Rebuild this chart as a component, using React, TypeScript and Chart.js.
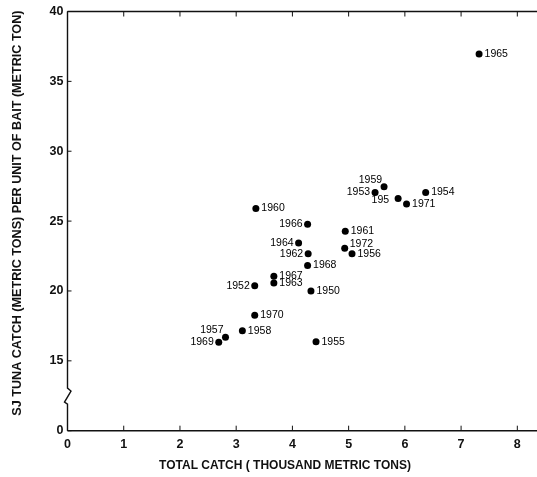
import React, { useEffect, useRef } from "react";
import { Chart, registerables } from "chart.js";

Chart.register(...registerables);

// ---- data ----
const years = ["1965", "1959", "1953", "195", "1971", "1954", "1960", "1966", "1961", "1964", "1972", "1956", "1962", "1968", "1967", "1963", "1952", "1950", "1970", "1958", "1957", "1969", "1955"];
const totalCatch = [7.32, 5.63, 5.47, 5.88, 6.03, 6.37, 3.35, 4.27, 4.94, 4.11, 4.93, 5.06, 4.28, 4.27, 3.67, 3.67, 3.33, 4.33, 3.33, 3.11, 2.81, 2.69, 4.42];
const catchPerBait = [36.96, 27.45, 27.04, 26.61, 26.22, 27.04, 25.9, 24.77, 24.27, 23.44, 23.06, 22.66, 22.66, 21.83, 21.05, 20.57, 20.38, 20.0, 18.27, 17.15, 16.69, 16.33, 16.37];
const labelSide = ["right", "upLeft", "left", "left", "right", "right", "right", "left", "right", "left", "upRight", "right", "left", "right", "right", "right", "left", "right", "right", "right", "upLeft", "left", "right"];

const xTicks = [0, 1, 2, 3, 4, 5, 6, 7, 8];
// broken y axis: the bottom tick stands for 0
const yTicks = [10, 15, 20, 25, 30, 35, 40];
const yTickLabels = ["0", "15", "20", "25", "30", "35", "40"];
const xMin = 0;
const xMax = 8.35;
const yMin = 10;
const yMax = 40;
const breakTop = 13.05;
const breakBottom = 11.9;

const xTitle = "TOTAL CATCH ( THOUSAND METRIC TONS)";
const yTitle = "SJ TUNA CATCH (METRIC TONS) PER UNIT OF BAIT (METRIC TON)";

const INK = "#111";

const decorPlugin = {
  id: "decor",
  afterDraw(chart: any) {
    const { ctx, chartArea: a, scales } = chart;
    const xs = scales.x;
    const ys = scales.y;
    ctx.save();
    ctx.strokeStyle = INK;
    ctx.lineWidth = 1.4;
    ctx.beginPath();
    ctx.moveTo(a.left, a.top);
    ctx.lineTo(a.right, a.top);
    ctx.moveTo(a.left, a.bottom);
    ctx.lineTo(a.right, a.bottom);
    const bt = ys.getPixelForValue(breakTop);
    const bb = ys.getPixelForValue(breakBottom);
    ctx.moveTo(a.left, a.top);
    ctx.lineTo(a.left, bt);
    ctx.lineTo(a.left + 3.5, bt + 3);
    ctx.lineTo(a.left - 3, bb - 2);
    ctx.lineTo(a.left, bb);
    ctx.lineTo(a.left, a.bottom);
    ctx.stroke();

    // inner tick marks
    ctx.lineWidth = 1;
    ctx.beginPath();
    xTicks.forEach((v) => {
      const px = xs.getPixelForValue(v);
      ctx.moveTo(px, a.bottom);
      ctx.lineTo(px, a.bottom - 5);
      ctx.moveTo(px, a.top);
      ctx.lineTo(px, a.top + 5);
    });
    yTicks.forEach((v) => {
      const py = ys.getPixelForValue(v);
      ctx.moveTo(a.left, py);
      ctx.lineTo(a.left + 4, py);
    });
    ctx.stroke();

    // axis titles
    ctx.fillStyle = INK;
    ctx.textAlign = "center";
    ctx.textBaseline = "middle";
    ctx.font = "bold 12px 'Liberation Sans', Arial, sans-serif";
    ctx.fillText(xTitle, 285, 466);
    ctx.font = "bold 12.6px 'Liberation Sans', Arial, sans-serif";
    ctx.translate(18, (a.top + a.bottom) / 2 - 8);
    ctx.rotate(-Math.PI / 2);
    ctx.fillText(yTitle, 0, 0);
    ctx.restore();
  },
  afterDatasetsDraw(chart: any) {
    const { ctx } = chart;
    const meta = chart.getDatasetMeta(0);
    ctx.save();
    ctx.fillStyle = "#000";
    ctx.font = "10.5px 'Liberation Sans', Arial, sans-serif";
    ctx.textBaseline = "middle";
    meta.data.forEach((pt: any, i: number) => {
      const side = labelSide[i];
      const t = years[i];
      let x = pt.x;
      let y = pt.y;
      if (side === "right") {
        ctx.textAlign = "left";
        x += 5.5;
      } else if (side === "left") {
        ctx.textAlign = "right";
        x -= i === 3 ? 9 : 5;
        if (i === 3) y += 1.5;
      } else if (side === "upLeft") {
        ctx.textAlign = "right";
        x -= 2;
        y -= 7;
      } else {
        ctx.textAlign = "left";
        x += 5;
        y -= 4;
      }
      ctx.fillText(t, x, y);
    });
    ctx.restore();
  },
};

export default function App() {
  const ref = useRef<HTMLCanvasElement | null>(null);

  useEffect(() => {
    if (!ref.current) return;
    const chart = new Chart(ref.current, {
      type: "scatter",
      data: {
        datasets: [
          {
            data: totalCatch.map((x, i) => ({ x, y: catchPerBait[i] })),
            pointRadius: 3.5,
            pointBackgroundColor: "#000",
            pointBorderWidth: 0,
          },
        ],
      },
      options: {
        animation: false,
        responsive: true,
        maintainAspectRatio: false,
        layout: { autoPadding: false, padding: { top: 9.5, right: 0, left: 0, bottom: 0 } },
        plugins: { legend: { display: false }, tooltip: { enabled: false } },
        scales: {
          x: {
            type: "linear",
            min: xMin,
            max: xMax,
            grid: { display: false, drawTicks: false },
            border: { display: false },
            afterBuildTicks: (s: any) => {
              s.ticks = xTicks.map((v) => ({ value: v }));
            },
            afterFit: (s: any) => {
              s.height = 46.3;
            },
            ticks: {
              padding: 6,
              color: INK,
              maxRotation: 0,
              autoSkip: false,
              font: { family: "'Liberation Sans', Arial, sans-serif", size: 12.5, weight: "bold" },
              callback: (v: any) => String(v),
            },
          },
          y: {
            type: "linear",
            min: yMin,
            max: yMax,
            grid: { display: false, drawTicks: false },
            border: { display: false },
            afterBuildTicks: (s: any) => {
              s.ticks = yTicks.map((v) => ({ value: v }));
            },
            afterFit: (s: any) => {
              s.width = 67.5;
            },
            ticks: {
              padding: 4,
              color: INK,
              autoSkip: false,
              font: { family: "'Liberation Sans', Arial, sans-serif", size: 12.5, weight: "bold" },
              callback: (v: any) => {
                const idx = yTicks.indexOf(Number(v));
                return idx >= 0 ? yTickLabels[idx] : "";
              },
            },
          },
        },
      },
      plugins: [decorPlugin],
    });
    return () => chart.destroy();
  }, []);

  return (
    <div style={{ position: "absolute", left: 0, top: 0, width: 537, height: 477, background: "#fff" }}>
      <canvas ref={ref} />
    </div>
  );
}
